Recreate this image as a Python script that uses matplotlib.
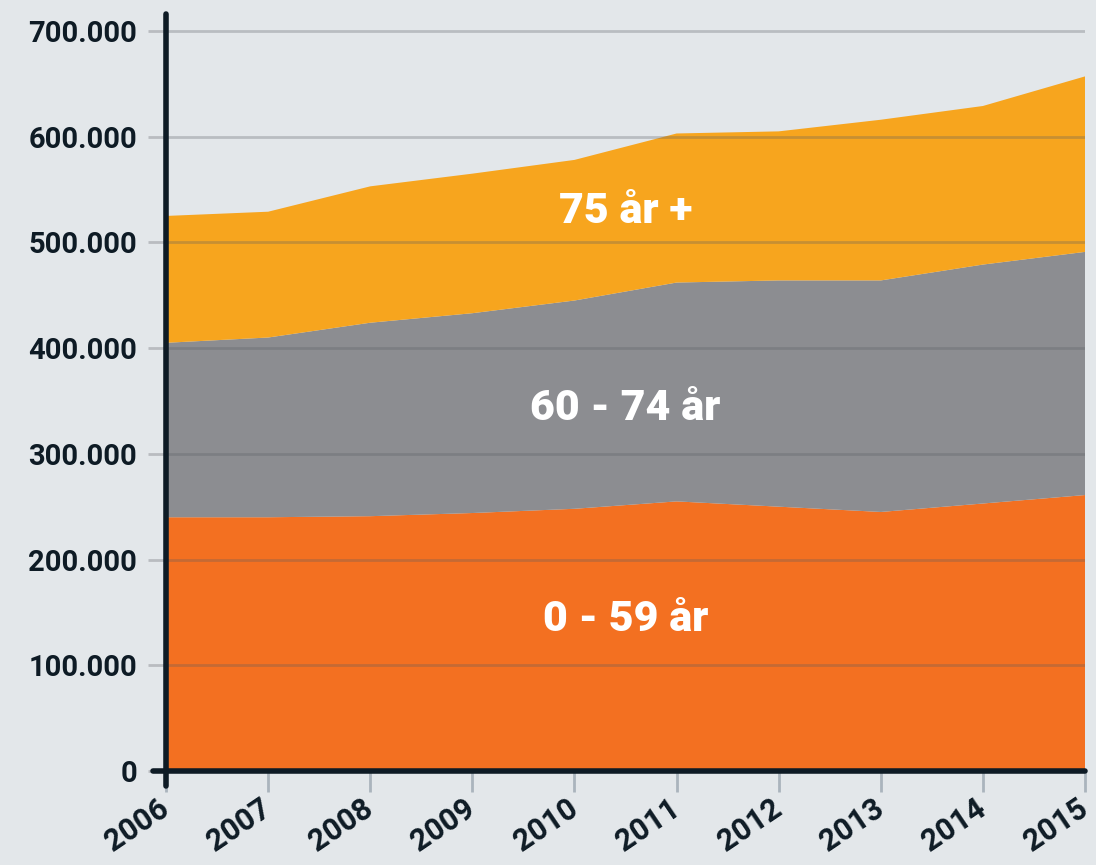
import matplotlib.pyplot as plt
from matplotlib.ticker import FuncFormatter

# Data
years = [2006, 2007, 2008, 2009, 2010, 2011, 2012, 2013, 2014, 2015]
age_0_59 = [240000, 240000, 241000, 244000, 248000, 255000, 250000, 245000, 253000, 261000]
age_60_74 = [165000, 170000, 183000, 189000, 197000, 207000, 214000, 219000, 226000, 230000]
age_75_plus = [120000, 119000, 129000, 132000, 133000, 141000, 141000, 152000, 150000, 166000]
series_labels = ["0 - 59 år", "60 - 74 år", "75 år +"]
label_y = [143000, 343000, 529000]
yticks = [0, 100000, 200000, 300000, 400000, 500000, 600000, 700000]

bg = '#e3e7ea'
dark = '#0e1b25'
colors = ['#f37021', '#8c8d91', '#f7a51e']

plt.rcParams['font.family'] = ['Roboto', 'DejaVu Sans']

fig = plt.figure(figsize=(10.96, 8.65), dpi=100, facecolor=bg)
ax = fig.add_axes([0.1515, 0.1087, 0.8385, 0.8751])
ax.set_facecolor(bg)

ax.stackplot(years, age_0_59, age_60_74, age_75_plus, colors=colors,
             linewidth=0, zorder=1)

ax.set_xlim(2006, 2015)
ax.set_ylim(0, 716000)

# gridlines drawn on top of the areas
ax.set_yticks(yticks)
ax.grid(axis='y', color='#5a5d63', alpha=0.3, linewidth=2, zorder=2)
ax.set_axisbelow(False)
ax.yaxis.set_major_formatter(FuncFormatter(lambda v, p: f"{int(v):,}".replace(",", ".")))
ax.tick_params(axis='y', length=13, width=2, color='#b9bcc0', pad=8,
               labelsize=21, labelcolor=dark)
for lab in ax.get_yticklabels():
    lab.set_fontweight('bold')

ax.set_xticks(years)
ax.tick_params(axis='x', length=15, width=2, color='#aab4bd', pad=10,
               labelsize=22, labelcolor=dark)
for lab in ax.get_xticklabels():
    lab.set_fontweight('bold')
    lab.set_rotation(34)
    lab.set_ha('right')
    lab.set_va('center')
    lab.set_rotation_mode('anchor')

for s in ax.spines.values():
    s.set_visible(False)

# axis lines (extend a little past the corner)
ax.plot([-0.014, 1.0], [0, 0], transform=ax.transAxes, color=dark,
        linewidth=4, solid_capstyle='round', clip_on=False, zorder=5)
ax.plot([0, 0], [-0.02, 1.0], transform=ax.transAxes, color=dark,
        linewidth=4, solid_capstyle='round', clip_on=False, zorder=5)

# series labels inside the areas
for name, y in zip(series_labels, label_y):
    ax.text(2010.5, y, name, color='white', fontsize=31, fontweight='black',
            ha='center', va='center', zorder=6)

fig.savefig('out.png', dpi=100, facecolor=bg)
